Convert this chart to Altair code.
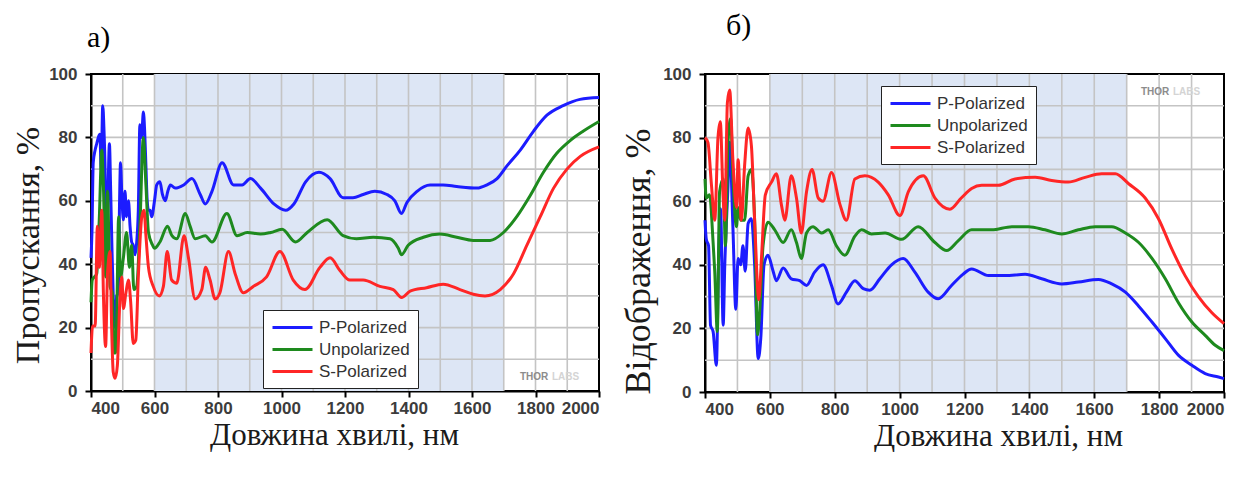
import altair as alt
import pandas as pd

# ---------------- data ----------------
SERIES = ["P-Polarized", "Unpolarized", "S-Polarized"]
COLORS = ["#1c1cff", "#1e8a1e", "#ff2626"]
SHADE = [600, 1700]

# a) transmission
t_p_x = [400, 403, 407, 413, 418, 423, 428, 432, 437, 441, 444, 447, 449, 453, 458, 462, 466, 470, 476, 481, 486, 490,
         493, 497, 502, 507, 512, 518, 523, 528, 533, 539, 544, 549, 554, 559, 565, 569, 573, 577, 581, 586, 591, 600,
         607, 617, 625, 634, 642, 650, 665, 692, 718, 744, 760, 781, 813, 849, 876, 902, 934, 976, 1013, 1039, 1076,
         1118, 1153, 1194, 1225, 1257, 1294, 1332, 1357, 1378, 1395, 1427, 1468, 1509, 1552, 1616, 1647, 1679, 1710,
         1752, 1794, 1836, 1887, 1940, 2000]
t_p_y = [42, 50, 72, 76, 78, 80, 81, 70, 90, 82, 72, 55, 48, 60, 78, 63, 45, 30, 20, 30, 31, 60,
         72, 62, 54, 63, 55, 60, 52, 47, 46, 43, 47, 57, 84, 80, 88, 82, 71, 60, 57, 57, 55, 60,
         65, 66, 62, 60, 63, 65, 64, 65, 67, 62, 59, 63, 72, 65, 65, 67, 64, 59, 57, 59, 66,
         69, 67, 61, 61, 62, 63, 62, 60, 56, 59.5, 63, 65, 65, 64.5, 64, 65, 67, 71,
         76, 82, 87, 90, 92, 92.6]

t_u_x = [400, 404, 411, 418, 426, 434, 439, 446, 452, 460, 467, 473, 477, 481, 487, 493, 502, 512, 521, 528, 535, 544,
         554, 565, 573, 581, 594, 600, 617, 641, 655, 670, 697, 712, 728, 760, 781, 828, 860, 892, 934, 966, 1002,
         1044, 1081, 1144, 1194, 1236, 1289, 1342, 1368, 1378, 1399, 1447, 1499, 1552, 1604, 1657, 1699, 1741, 1783,
         1825, 1867, 1909, 1951, 2000]
t_u_y = [28, 35, 36, 37, 54, 76, 65, 36, 63, 33, 31, 12, 12, 23, 55, 36, 42, 50, 39, 46, 32, 33,
         52, 80, 65, 50, 46, 45, 47, 52, 49, 48, 56, 52, 48, 49, 47, 56, 49, 50, 49.5, 50, 51,
         47, 50, 54, 49, 48, 48.5, 48, 45, 43, 46, 48.5, 49.5, 48.5, 47.5, 47.5, 50, 55, 61.6,
         69, 75, 79, 82, 85]

t_s_x = [400, 405, 413, 420, 426, 434, 439, 446, 452, 460, 465, 470, 476, 483, 491, 497, 502, 510, 518, 525, 533, 541,
         549, 560, 567, 573, 581, 596, 615, 628, 640, 654, 670, 693, 707, 728, 749, 761, 775, 791, 806, 833, 854, 880,
         911, 953, 995, 1037, 1074, 1121, 1153, 1184, 1215, 1257, 1310, 1352, 1378, 1405, 1457, 1509, 1562, 1604,
         1641, 1689, 1731, 1773, 1815, 1857, 1899, 1941, 2000]
t_s_y = [12, 20.5, 20.5, 52, 39, 57, 31, 14, 37, 44, 20, 6, 4, 8, 29, 36, 26, 31, 35, 28, 15, 16,
         36, 55, 57, 49, 39, 33, 30, 33, 44, 35, 34, 49, 42, 29, 32, 39, 35, 29, 31, 44, 37, 31,
         33, 36, 44, 35, 32, 39, 42, 38, 35, 35, 33, 32, 29.5, 31.5, 32.6, 33.7, 32, 30.5,
         30, 32, 37, 46, 55, 64, 70, 74, 77]

# б) reflection
r_p_x = [400, 404, 411, 417, 425, 435, 442, 448, 456, 461, 471, 476, 486, 495, 502, 510, 517, 524, 533, 543, 553, 564,
         572, 582, 594, 610, 620, 641, 666, 692, 713, 738, 764, 790, 810, 836, 862, 888, 908, 939, 975, 1011, 1047,
         1088, 1119, 1160, 1195, 1222, 1274, 1325, 1387, 1438, 1500, 1551, 1613, 1654, 1696, 1737, 1778, 1819, 1860,
         1901, 1942, 1983, 2000]
r_p_y = [54, 48, 46, 21, 19, 8.4, 42, 57.6, 21, 40, 65, 78.5, 52, 26, 42, 40, 46, 38, 53, 54.5, 40, 10.5,
         17, 40, 43, 38, 35, 39, 35.6, 35, 33.5, 37.7, 40, 33.5, 27.7, 31.4, 35, 32.5, 32, 35.6, 40, 42, 37.7,
         31.4, 29.3, 33.5, 37, 38.7, 36.6, 36.6, 37, 35.6, 34, 34.6, 35.4, 34, 31.4, 27, 22, 16.8, 11.5,
         8.4, 5.8, 4.7, 4.2]

r_u_x = [400, 404, 414, 425, 430, 438, 445, 456, 463, 471, 479, 486, 497, 502, 510, 522, 533, 543, 553, 562, 569, 579,
         594, 615, 641, 666, 682, 697, 713, 733, 759, 780, 805, 831, 862, 883, 913, 955, 1006, 1057, 1109, 1145,
         1181, 1222, 1284, 1346, 1397, 1448, 1500, 1551, 1603, 1654, 1696, 1737, 1778, 1819, 1860, 1901, 1942,
         1973, 2000]
r_u_y = [67, 61, 62, 47, 38, 19, 63, 67, 46, 78.5, 86, 68, 52, 58, 54, 54, 68, 70, 54, 18, 26, 46,
         53.4, 51, 47, 51, 47, 42, 50, 52, 50, 51, 46, 43, 49, 51, 49.7, 50, 48, 52, 47, 44.5,
         47.6, 51, 51, 52, 52, 51, 49.7, 51, 52, 52, 50, 47, 42, 35.6, 28, 22, 17.8,
         14.7, 13]

r_s_x = [400, 409, 420, 430, 440, 447, 456, 461, 469, 476, 486, 497, 502, 512, 522, 533, 543, 553, 566, 574, 586, 605,
         620, 636, 646, 666, 682, 697, 713, 730, 749, 764, 790, 816, 836, 862, 893, 934, 965, 1001, 1027, 1073,
         1109, 1155, 1190, 1222, 1253, 1304, 1356, 1418, 1469, 1520, 1572, 1623, 1665, 1706, 1757, 1798, 1839,
         1880, 1921, 1962, 2000]
r_s_y = [80, 78.5, 65, 54, 80, 85, 61, 54, 91, 95, 73, 58, 73, 54, 71, 83, 77.5, 54, 29, 42, 62, 66,
         68.6, 58.6, 54, 68, 61, 50, 63, 70, 61, 60, 69, 59, 54, 67, 68, 66, 62, 55.5, 63, 68,
         61, 57.5, 61, 64, 65, 65, 67, 67.5, 66.5, 66, 67.5, 68.6, 68.6, 65.5, 61, 54.5, 45,
         36.6, 30, 25, 21.5]

GRID_X = list(range(500, 2000, 100))
GRID_Y = list(range(10, 100, 10))
TICK_X = list(range(400, 2001, 100))
TICK_Y = list(range(0, 101, 10))


def frame(xs, ys):
    rows = []
    for name, x, y in zip(SERIES, xs, ys):
        rows += [{"wl": a, "val": b, "series": name} for a, b in zip(x, y)]
    return pd.DataFrame(rows)


W1, H1 = 508, 317
W2, H2 = 519, 318

label_font = dict(labelFont="Liberation Sans", labelFontWeight="bold", labelFontSize=17, labelColor="#3c3c3c")
axis_common = dict(grid=False, domainColor="black", domainWidth=2, tickColor="black", tickWidth=2, tickSize=6,
                   titleFont="Liberation Serif", titleFontWeight="normal", titleColor="#1a1a1a",
                   **label_font)


def panel(df, w, h, ytitle, ysize, title_text, title_dx, title_dy, ytx, yty, xtx, leg_x, leg_y, wm_x, wm_y):
    xs = alt.Scale(domain=[400, 2000], nice=False, zero=False)
    ys = alt.Scale(domain=[0, 100], nice=False)
    xaxis = alt.Axis(values=TICK_X, format="d", labelExpr="datum.value % 200 == 0 ? datum.label : ''",
                     labelPadding=3, title="Довжина хвилі, нм", titleX=xtx, titleY=44, titleFontSize=31,
                     titleBaseline="middle", titleAlign="center", **axis_common)
    yaxis = alt.Axis(values=TICK_Y, format="d", labelExpr="datum.value % 20 == 0 ? datum.label : ''",
                     labelPadding=8, title=ytitle, titleX=ytx, titleY=yty, titleAngle=270, titleFontSize=ysize,
                     titleBaseline="middle", titleAlign="center", **axis_common)

    shade = alt.Chart(pd.DataFrame({"a": [SHADE[0]], "b": [SHADE[1]]})).mark_rect(
        color="#dde6f5").encode(
        x=alt.X("a:Q", scale=xs, axis=xaxis), x2="b:Q",
        y=alt.value(0), y2=alt.value(h))
    gx = alt.Chart(pd.DataFrame({"g": GRID_X})).mark_rule(color="#c4c4c4", strokeWidth=1.6).encode(
        x=alt.X("g:Q", scale=xs))
    gy = alt.Chart(pd.DataFrame({"g": GRID_Y})).mark_rule(color="#c4c4c4", strokeWidth=1.6).encode(
        y=alt.Y("g:Q", scale=ys, axis=yaxis))
    lines = alt.Chart(df).mark_line(strokeWidth=3, interpolate="monotone").encode(
        x=alt.X("wl:Q", scale=xs),
        y=alt.Y("val:Q", scale=ys),
        color=alt.Color("series:N", scale=alt.Scale(domain=SERIES, range=COLORS),
                        sort=SERIES,
                        legend=alt.Legend(title=None, orient="none", legendX=leg_x, legendY=leg_y,
                                          symbolType="M-1,0H4", symbolSize=256, symbolStrokeWidth=3,
                                          labelFont="Liberation Sans", labelFontSize=17, labelColor="#333333",
                                          labelOffset=29, rowPadding=4, padding=8,
                                          strokeColor="#222222", fillColor="white")),
        order=alt.Order("wl:Q"))
    wm1 = alt.Chart(pd.DataFrame({"t": ["THOR"]})).mark_text(
        font="Liberation Sans", fontWeight="bold", fontSize=10, color="#8c8c8c", align="left", baseline="middle"
    ).encode(text="t:N", x=alt.value(wm_x), y=alt.value(wm_y))
    wm2 = alt.Chart(pd.DataFrame({"t": ["LABS"]})).mark_text(
        font="Liberation Sans", fontWeight="bold", fontSize=10, color="#d4d4d4", align="left", baseline="middle"
    ).encode(text="t:N", x=alt.value(wm_x + 32), y=alt.value(wm_y))

    return alt.layer(shade, gx, gy, lines, wm1, wm2).properties(
        width=w, height=h,
        title=alt.TitleParams(title_text, anchor="start", dx=title_dx, dy=title_dy, offset=14,
                              font="Liberation Serif", fontSize=30, fontWeight="normal", color="black"))


left = panel(frame([t_p_x, t_u_x, t_s_x], [t_p_y, t_u_y, t_s_y]), W1, H1, "Пропускання, %", 34,
             "а)", 76, 2, -63, 171, 243, 172, 236, 429, 303)
right = panel(frame([r_p_x, r_u_x, r_s_x], [r_p_y, r_u_y, r_s_y]), W2, H2, "Відображення, %", 36,
              "б)", 106, -10, -67, 187, 293, 176, 12, 436, 18)

chart = alt.hconcat(left, right, spacing=13).resolve_legend(color="independent").configure_view(
    stroke="black", strokeWidth=2
).properties(padding={"left": 2, "top": 2, "right": 0, "bottom": 0}, background="white")

chart.save("out.html", embed_options={"renderer": "svg", "actions": False})
